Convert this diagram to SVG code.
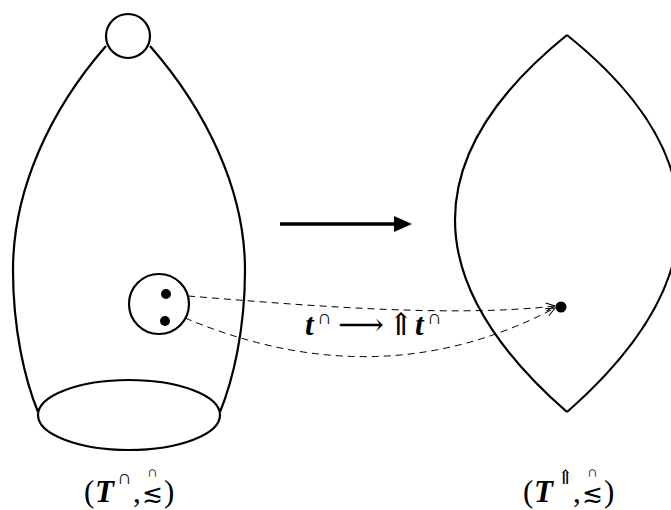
<svg xmlns="http://www.w3.org/2000/svg" width="671" height="510" viewBox="0 0 671 510">
<style>
.ln{fill:none;stroke:#000;stroke-width:2.2}
.ds{fill:none;stroke:#000;stroke-width:1;stroke-dasharray:7,5}
.tx{font-family:"Liberation Serif","DejaVu Serif",serif;fill:#000;font-size:31px}
.bi{font-style:italic;font-weight:bold}
.sup{font-size:20px}
.rel{font-size:25px}
.cap{font-size:15px}
.dot{fill:#000}
</style>
<defs>
<marker id="open" markerWidth="12" markerHeight="10" refX="10" refY="5" orient="auto" markerUnits="userSpaceOnUse">
<path d="M1,1 L10,5 L1,9" fill="none" stroke="#000" stroke-width="1"/>
</marker>
<marker id="solid" markerWidth="20" markerHeight="16" refX="4" refY="8" orient="auto" markerUnits="userSpaceOnUse">
<path d="M0,0 L18,8 L0,16 Z" fill="#000"/>
</marker>
</defs>
<g id="left-space">
<path class="ln" d="M106,46 C50,110 13,190 13,270 C13,330 25,380 38,412"/>
<path class="ln" d="M150,46 C206,110 245,190 245,270 C245,330 233,380 220,412"/>
<circle class="ln" cx="128" cy="36" r="22" fill="#fff"/>
<ellipse class="ln" cx="129" cy="415" rx="91" ry="35"/>
</g>
<g id="small-circle">
<circle class="ln" cx="159" cy="304" r="30"/>
<circle class="dot" cx="166" cy="294" r="5"/>
<circle class="dot" cx="165" cy="321" r="5"/>
</g>
<g id="right-space">
<path class="ln" d="M567,35 Q343,216 567,412"/>
<path class="ln" d="M567,35 Q791,215 567,412"/>
<circle class="dot" cx="561" cy="307" r="5.5"/>
</g>
<g id="connectors">
<line x1="280" y1="224" x2="398" y2="224" stroke="#000" stroke-width="3.5" marker-end="url(#solid)"/>
<path class="ds" d="M188,296 C300,305 450,318 555,306" marker-end="url(#open)"/>
<path class="ds" d="M185,318 Q380,400 555,308" marker-end="url(#open)"/>
</g>
<g id="map-label">
<text class="tx bi" x="305" y="335">t</text>
<text class="tx sup" x="317" y="324">∩</text>
<text class="tx" x="338" y="335" textLength="46" lengthAdjust="spacingAndGlyphs">⟶</text>
<text class="tx" x="388" y="335">⇑</text>
<text class="tx bi" x="415" y="335">t</text>
<text class="tx sup" x="427" y="324">∩</text>
</g>
<g id="left-label">
<text class="tx" x="84" y="502">(</text>
<text class="tx bi" x="95" y="502">T</text>
<text class="tx sup" x="117" y="484">∩</text>
<text class="tx" x="133" y="502">,</text>
<text class="tx rel" x="142" y="502">≲</text>
<text class="tx cap" x="147" y="477">∩</text>
<text class="tx" x="164" y="502">)</text>
</g>
<g id="right-label">
<text class="tx" x="523" y="502">(</text>
<text class="tx bi" x="534" y="502">T</text>
<text class="tx sup" x="557" y="484">⇑</text>
<text class="tx" x="573" y="502">,</text>
<text class="tx rel" x="582" y="502">≲</text>
<text class="tx cap" x="587" y="477">∩</text>
<text class="tx" x="604" y="502">)</text>
</g>
</svg>
